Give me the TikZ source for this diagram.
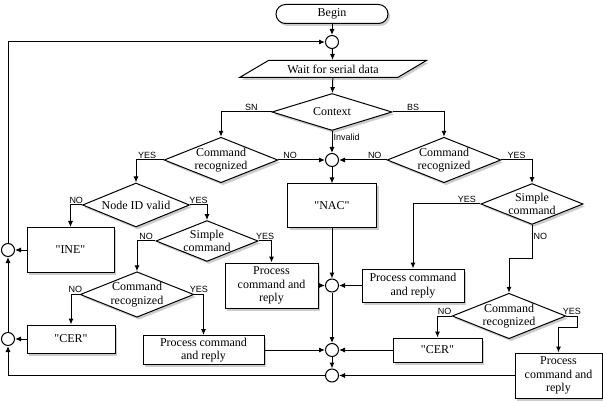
\documentclass[tikz,border=0pt]{standalone}
\usepackage{fontspec}
\setmainfont{Liberation Serif}[Ligatures=TeXOff]
\setsansfont{Liberation Sans}
\usetikzlibrary{shapes.geometric,shadows,arrows.meta}

\begin{document}
\begin{tikzpicture}[x=1pt, y=-1pt, line width=1pt, >={Latex[length=6pt,width=5pt]},
	shadowed/.style={drop shadow={shadow xshift=2pt, shadow yshift=-2.5pt, opacity=0.4}},
	box/.style={draw, fill=white, shadowed, align=center, inner sep=1pt, font=\fontsize{12}{13.5}\selectfont},
	startbox/.style={box, rounded corners=9.5pt, minimum width=112pt, minimum height=19pt},
	inbox/.style={box, trapezium, trapezium left angle=23, trapezium right angle=157, trapezium stretches=true, minimum width=187pt, minimum height=17pt, inner sep=0pt},
	decision/.style={box, diamond, aspect=2.5, inner sep=0pt},
	joint/.style={circle, draw, fill=white, minimum size=13pt, inner sep=0pt},
	lbl/.style={font=\sffamily\fontsize{9}{10}\selectfont, inner sep=1pt}]
	\useasboundingbox (0,0) rectangle (603,401);
	% start and the context test
	\node[startbox] (begin) at (332,14) {Begin};
	\node[inbox] (wait) at (333,69) {Wait for serial data};
	\node[decision, minimum width=120pt, minimum height=37pt] (ctx) at (332,112) {Context};
	\node[decision] (crSN) at (221,160) {Command\\recognized};
	\node[decision] (crBS) at (444,160) {Command\\recognized};
	\node[box, minimum width=89pt, minimum height=44pt] (nac) at (332,206) {"NAC"};
	% SN branch
	\node[decision, minimum width=107pt, minimum height=44pt] (nid) at (136,205) {Node ID valid};
	\node[box, minimum width=87pt, minimum height=45pt] (ine) at (70.5,250) {"INE"};
	\node[decision] (scSN) at (207,241) {Simple\\command};
	\node[box, minimum width=93pt, minimum height=45pt] (prA) at (271.5,285.5) {Process\\command and\\reply};
	\node[decision] (crNID) at (137,294.5) {Command\\recognized};
	\node[box, minimum width=88pt, minimum height=28pt] (cerA) at (71,339) {"CER"};
	\node[box, minimum width=121pt, minimum height=29pt] (prB) at (203.5,350) {Process command\\and reply};
	% BS branch
	\node[decision] (scBS) at (532,204) {Simple\\command};
	\node[box, minimum width=102pt, minimum height=33pt] (prC) at (413,285.5) {Process command\\and reply};
	\node[decision] (crSC) at (509,316) {Command\\recognized};
	\node[box, minimum width=89pt, minimum height=24pt] (cerB) at (437.5,350) {"CER"};
	\node[box, minimum width=87pt, minimum height=45pt] (prD) at (558.5,375.5) {Process\\command and\\reply};
	% junctions
	\foreach \n/\x/\y in {c1/332/42, c2/332/160, c3/332/285.5, c4/332/350, c5/332/375.5, l1/8/250, l2/8/339}
	{
		\node[joint] (\n) at (\x,\y) {};
	}
	% straight arrows
	\foreach \a/\b in {begin/c1, c1/wait, wait/ctx, c2/nac, nac/c3, c3/c4, c4/c5,
		prA/c3, prC/c3, prB/c4, cerB/c4, prD/c5, ine/l1, cerA/l2, l2/l1}
	{
		\draw[->] (\a) -- (\b);
	}
	\draw[->] (ctx.south) -- node[lbl, right, pos=0.3] {Invalid} (c2);
	\draw[->] (ctx.west) -| node[lbl, above, pos=0.2] {SN} (crSN.north);
	\draw[->] (ctx.east) -| node[lbl, above, pos=0.2] {BS} (crBS.north);
	\draw[->] (crSN.east) -- node[lbl, above, pos=0.25] {NO} (c2);
	\draw[->] (crBS.west) -- node[lbl, above, pos=0.25] {NO} (c2);
	\draw[->] (crSN.west) -| node[lbl, above, pos=0.3] {YES} (nid.north);
	\draw[->] (crBS.east) -| node[lbl, above, pos=0.25] {YES} (scBS.north);
	\draw[->] (nid.west) -| node[lbl, above, pos=0.25] {NO} (ine.north);
	\draw[->] (nid.east) -| node[lbl, above, pos=0.25] {YES} (scSN.north);
	\draw[->] (scSN.west) -| node[lbl, above, pos=0.25] {NO} (crNID.north);
	\draw[->] (scSN.east) -| node[lbl, above, pos=0.25] {YES} (prA.north);
	\draw[->] (crNID.west) -| node[lbl, above, pos=0.25] {NO} (cerA.north);
	\draw[->] (crNID.east) -| node[lbl, above, pos=0.25] {YES} (prB.north);
	\draw[->] (scBS.west) -| node[lbl, above, pos=0.1] {YES} (prC.north);
	\draw[->] (scBS.south) -- node[lbl, right, pos=0.35] {NO} ++(0,34) -| (crSC.north);
	\draw[->] (crSC.west) -| node[lbl, above, pos=0.25] {NO} (cerB.north);
	\draw[->] (crSC.east) -- node[lbl, above] {YES} ++(11,0) -- ++(0,11) -| (prD.north);
	% back to the top
	\draw[->] (l1.north) |- (c1.west);
	\draw[->] (c5.west) -| (l2.south);
\end{tikzpicture}
\end{document}
